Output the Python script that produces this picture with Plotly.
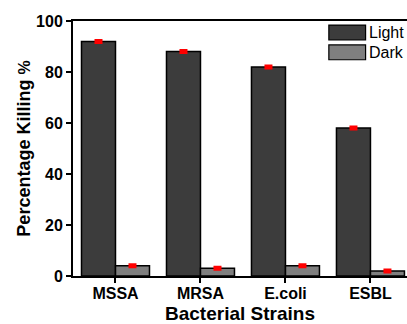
import plotly.graph_objects as go

categories = ["MSSA", "MRSA", "E.coli", "ESBL"]
light_values = [92, 88, 82, 58]
dark_values = [4, 3, 4, 2]
light_err = [0.4, 0.4, 0.4, 0.4]
dark_err = [0.4, 0.4, 0.4, 0.4]
y_ticks = [0, 20, 40, 60, 80, 100]
series_names = ["Light", "Dark"]

LIGHT_COLOR = "#3c3c3c"
DARK_COLOR = "#7f7f7f"
FONT = "Liberation Sans, Arial, sans-serif"

fig = go.Figure()
fig.add_trace(go.Bar(
    x=categories, y=light_values, name=series_names[0],
    marker=dict(color=LIGHT_COLOR, line=dict(color="black", width=1.5)),
    error_y=dict(type="data", array=light_err, color="red", thickness=3, width=4),
    showlegend=False,
))
fig.add_trace(go.Bar(
    x=categories, y=dark_values, name=series_names[1],
    marker=dict(color=DARK_COLOR, line=dict(color="black", width=1.5)),
    error_y=dict(type="data", array=dark_err, color="red", thickness=3, width=4),
    showlegend=False,
))

# custom legend (rectangular swatches)
legend_items = [(series_names[0], LIGHT_COLOR, 0.955), (series_names[1], DARK_COLOR, 0.877)]
for name, color, yc in legend_items:
    fig.add_shape(type="rect", xref="paper", yref="paper",
                  x0=0.766, x1=0.876, y0=yc - 0.029, y1=yc + 0.029,
                  fillcolor=color, line=dict(color="black", width=1.2))
    fig.add_annotation(xref="paper", yref="paper", x=0.880, y=yc, text=name,
                       showarrow=False, xanchor="left", yanchor="middle",
                       font=dict(family=FONT, size=16, color="black"))

fig.update_layout(
    width=407, height=324,
    margin=dict(l=73, r=0, t=21, b=48),
    paper_bgcolor="white", plot_bgcolor="white",
    barmode="group", bargap=0.2, bargroupgap=0,
    font=dict(family=FONT, color="black"),
)
fig.update_xaxes(
    range=[-0.5, 3.43], showline=True, linecolor="black", linewidth=2,
    mirror=True, ticks="outside", ticklen=5, tickwidth=1.5, tickcolor="black", showgrid=False,
    tickfont=dict(family=FONT, size=16, color="black", weight="bold"),
    ticklabelstandoff=-3,
    title=dict(text="<b>Bacterial Strains</b>", font=dict(family=FONT, size=19), standoff=6),
)
fig.update_yaxes(
    range=[0, 100], tickvals=y_ticks, showline=True, linecolor="black", linewidth=2,
    ticks="outside", ticklen=5, tickwidth=1.5, tickcolor="black", showgrid=False, zeroline=False,
    tickfont=dict(family=FONT, size=16, color="black", weight="bold"),
    title=dict(text="<b>Percentage Killing <span style='font-size:16px'>%</span></b>",
               font=dict(family=FONT, size=18), standoff=1),
)

fig.write_html("out.html", config={"displayModeBar": False},
               post_script="document.body.style.margin='0';document.body.style.overflow='hidden';")
